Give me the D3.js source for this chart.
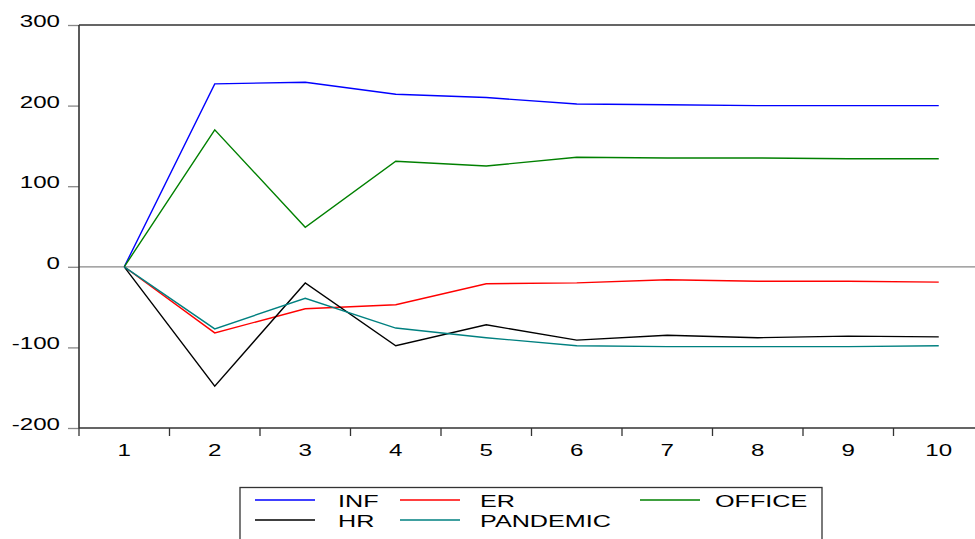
<!DOCTYPE html>
<html><head><meta charset="utf-8">
<script src="https://cdn.jsdelivr.net/npm/d3@7/dist/d3.min.js"></script>
<style>body{margin:0;background:#fff}svg{display:block;font-family:"Liberation Sans",Arial,sans-serif}</style>
</head><body><svg id="c" width="975" height="539"></svg>
<script>
const periods = [1,2,3,4,5,6,7,8,9,10];
const yTicks = [-200,-100,0,100,200,300];
const INF = [0,227,229,214,210,202,201,200,200,200];
const ER = [0,-82,-52,-47,-21,-20,-16,-18,-18,-19];
const OFFICE = [0,170,49,131,125,136,135,135,134,134];
const HR = [0,-148,-20,-98,-72,-91,-85,-88,-86,-87];
const PANDEMIC = [0,-77,-39,-76,-88,-98,-99,-99,-99,-98];
const seriesNames = ["INF","ER","OFFICE","HR","PANDEMIC"];
const seriesValues = [INF,ER,OFFICE,HR,PANDEMIC];
const colors = ["#0000ff","#ff0000","#008000","#000000","#008080"];

const svg = d3.select("#c");
const L = 79, T = 25, B = 428, R = 79 + 10*90.5;
const SX = 1.42, FS = 17;
const x = d3.scaleBand().domain(periods).range([L, R]).padding(0);
const y = d3.scaleLinear().domain([-200,300]).range([B, T]);

function wideText(g, px, py, str, anchor, sx){
  return g.append("text").attr("transform",`translate(${px},${py}) scale(${sx||SX},1)`)
    .attr("text-anchor",anchor).attr("font-size",FS).attr("fill","#000").text(str);
}

// zero line
svg.append("line").attr("x1",L).attr("x2",975).attr("y1",y(0)).attr("y2",y(0))
  .attr("stroke","#888").attr("stroke-width",1.3);

// y axis ticks + labels
const ya = svg.append("g").attr("transform",`translate(${L},0)`)
  .call(d3.axisLeft(y).tickValues(yTicks).tickSize(11).tickFormat(""));
ya.select(".domain").remove();
ya.selectAll(".tick line").attr("stroke","#888").attr("stroke-width",1.3);
ya.selectAll(".tick text").remove();
const yl = svg.append("g");
yTicks.forEach(t=>wideText(yl, 60, y(t)+2, String(t), "end"));

// x axis ticks + labels
const xa = svg.append("g").attr("transform",`translate(0,${B})`)
  .call(d3.axisBottom(x).tickSize(0).tickFormat(""));
xa.select(".domain").remove();
xa.selectAll(".tick text").remove();
svg.append("g").selectAll("line").data(periods).join("line")
  .attr("x1",d=>x(d)).attr("x2",d=>x(d)).attr("y1",B).attr("y2",B+8)
  .attr("stroke","#333").attr("stroke-width",1.3);
const xl = svg.append("g");
periods.forEach(p=>wideText(xl, x(p)+x.bandwidth()/2, 455.5, String(p), "middle"));

// frame
svg.append("path").attr("d",`M${L},${B}H975M${L},${T}H975M${L},${T}V${B}`)
  .attr("stroke","#333").attr("stroke-width",1.6).attr("fill","none");

// lines
const line = d3.line().x((d,i)=>x(periods[i])+x.bandwidth()/2).y(d=>y(d));
seriesValues.forEach((vals,k)=>{
  svg.append("path").datum(vals).attr("d",line).attr("fill","none")
    .attr("stroke",colors[k]).attr("stroke-width",1.4).attr("stroke-linejoin","miter");
});

// legend
const lg = svg.append("g");
lg.append("rect").attr("x",240).attr("y",487.5).attr("width",582).attr("height",60)
  .attr("fill","#fff").attr("stroke","#333").attr("stroke-width",1.3);
const pos = [[255,500],[400,500],[640,500],[255,520],[400,520]];
const txtX = [338,480,715,338,480];
seriesNames.forEach((n,k)=>{
  const [px,py] = pos[k];
  lg.append("line").attr("x1",px).attr("x2",px+60).attr("y1",py).attr("y2",py)
    .attr("stroke",colors[k]).attr("stroke-width",1.4);
  wideText(lg, txtX[k], py+6.5, n, "start", 1.48);
});
</script></body></html>
